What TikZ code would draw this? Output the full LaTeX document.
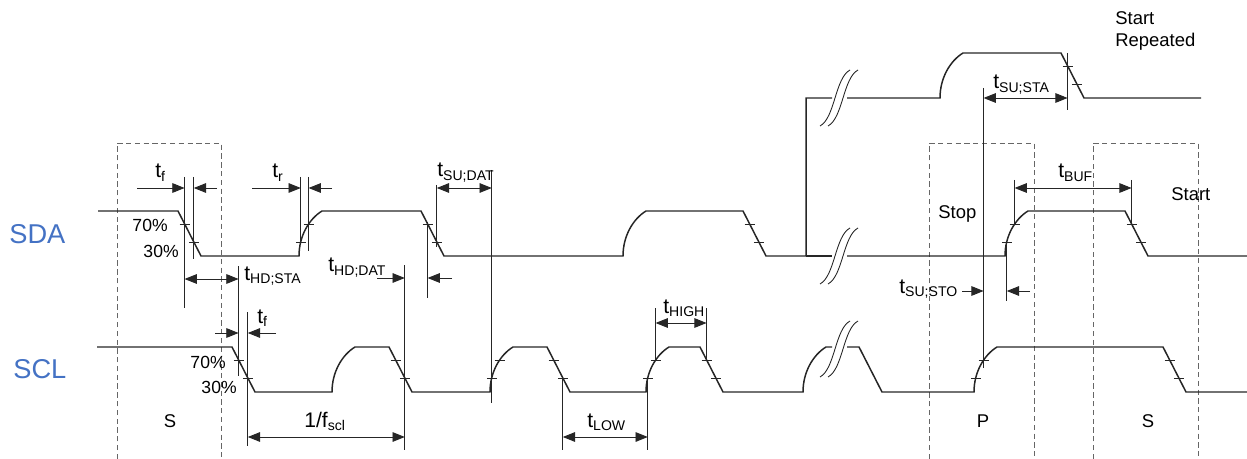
\documentclass[tikz,border=0pt]{standalone}
\usepackage{fontspec}
\setmainfont{Liberation Sans}
\usetikzlibrary{arrows.meta}
\definecolor{wireblue}{RGB}{68,114,196}
\newcommand{\tlab}[1]{t\textsubscript{#1}}
% two wavy strokes that mark a cut in a signal
\newcommand{\sigcut}[2]{%
  \foreach \dx in {-4,4}{%
    \draw[ext] ({#1+\dx-15},{#2+28}) .. controls ({#1+\dx},{#2+20}) and ({#1+\dx},{#2-20}) .. ({#1+\dx+15},{#2-28});
  }}

\begin{document}
\begin{tikzpicture}[
    x=0.02cm, y=-0.02cm,
    sig/.style={draw=black!85, line width=0.85pt},
    ext/.style={draw=black!85, line width=0.5pt},
    guide/.style={draw=black!60, line width=0.55pt, dash pattern=on 3pt off 2pt},
    tip/.style={Triangle[length=7pt, width=5.5pt]},
    dimarrow/.style={ext, {Triangle[length=7pt, width=5.5pt]}-{Triangle[length=7pt, width=5.5pt]}},
    onearrow/.style={ext, -{Triangle[length=7pt, width=5.5pt]}},
    tlabel/.style={font=\fontsize{12}{14}\selectfont, inner sep=0pt, anchor=base west},
    pct/.style={font=\fontsize{10}{12}\selectfont, inner sep=0pt, anchor=base east},
    note/.style={font=\fontsize{10.5}{12.5}\selectfont, inner sep=0pt},
    wire/.style={font=\fontsize{15.5}{18}\selectfont, text=wireblue, inner sep=0pt, anchor=base west}
]
\useasboundingbox (0,0) rectangle (1247,459);

% --- Condition boxes ---
\draw[guide] (117,459) -- (117,143) -- (221,143) -- (221,459);
\draw[guide] (929,459) -- (929,143) -- (1034,143) -- (1034,459);
\draw[guide] (1093,459) -- (1093,143) -- (1198,143) -- (1198,459);
\node[note] (s_left) at (170,421) {S};
\node[note] (p_stop) at (983,421) {P};
\node[note] (s_right) at (1148,421) {S};
\node[note, anchor=base west] (stop) at (938,218) {Stop};
\node[note, anchor=base west] (start) at (1171,201) {Start};
\node[note, anchor=west, align=left] (srep) at (1115,31) {Start\\Repeated};

% --- Wire names ---
\node[wire] (sda) at (9,243) {SDA};
\node[wire] (scl) at (13,378) {SCL};

% --- SDA ---
\draw[sig] (98,211) -- (178,211) -- (201,256) -- (299,256)
    .. controls +(0,-20) and +(-13,8) .. (322,211) -- (421,211) -- (444,256) -- (623,256)
    .. controls +(0,-20) and +(-13,8) .. (646,211) -- (743,211) -- (766,256) -- (806,256)
    -- (806,98) -- (832,98);
\draw[sig] (806,256) -- (832,256);
\draw[sig] (847,98) -- (940,98)
    .. controls +(0,-20) and +(-13,8) .. (963,53) -- (1061,53) -- (1084,98) -- (1201,98);
\draw[sig] (847,256) -- (1005,256)
    .. controls +(0,-20) and +(-13,8) .. (1028,211) -- (1125,211) -- (1148,256) -- (1247,256);

% --- SCL ---
\draw[sig] (97,347) -- (232,347) -- (255,392) -- (332,392)
    .. controls +(0,-20) and +(-13,8) .. (355,347) -- (389,347) -- (412,392) -- (490,392)
    .. controls +(0,-20) and +(-13,8) .. (513,347) -- (547,347) -- (570,392) -- (646,392)
    .. controls +(0,-20) and +(-13,8) .. (669,347) -- (700,347) -- (723,392) -- (803,392)
    .. controls +(0,-20) and +(-13,8) .. (826,347) -- (832,347);
\draw[sig] (847,347) -- (859,347) -- (882,392) -- (974,392)
    .. controls +(0,-20) and +(-13,8) .. (997,347) -- (1163,347) -- (1186,392) -- (1247,392);

% --- Cuts ---
\sigcut{839}{98}
\sigcut{839}{256}
\sigcut{839}{349}

% --- 70% / 30% marks ---
\foreach \tx/\ty in {184.6/224, 193.8/242, 427.6/224, 436.8/242, 749.6/224, 758.8/242,
    1131.6/224, 1140.8/242, 1067.6/66, 1076.8/84, 300.8/242, 308.6/224, 1006.8/242, 1014.6/224,
    238.6/360, 247.8/378, 395.6/360, 404.8/378, 553.6/360, 562.8/378, 706.6/360, 715.8/378,
    1169.6/360, 1178.8/378, 491.8/378, 499.6/360, 647.8/378, 655.6/360, 975.8/378, 983.6/360}
  \draw[ext] ({\tx-5},\ty) -- ({\tx+5},\ty);
\node[pct] (sda70) at (168,232) {70\%};
\node[pct] (sda30) at (179,257) {30\%};
\node[pct] (scl70) at (226,368) {70\%};
\node[pct] (scl30) at (237,393) {30\%};

% --- Extension lines ---
\foreach \ex/\ya/\yb in {184.6/177/308, 193.8/177/259, 300.8/177/243, 308.6/177/251,
    238.6/266/376, 247.8/312/446, 404.8/265/450, 427.6/222/298, 436.8/185/247,
    491.8/170/403, 562.8/377/450, 647.8/378/450, 655.6/308/360, 706.6/308/360,
    983.6/88/368, 1006.8/243/301, 1014.6/180/224, 1131.6/180/224, 1067.6/53/110}
  \draw[ext] (\ex,\ya) -- (\ex,\yb);

% --- Timing arrows ---
\coordinate (tf_in_l) at (137,188);   \coordinate (tf_l) at (184.6,188);
\coordinate (tf_in_r) at (217,188);   \coordinate (tf_r) at (193.8,188);
\draw[onearrow] (tf_in_l) -- (tf_l);
\draw[onearrow] (tf_in_r) -- (tf_r);
\node[tlabel] (tf_sda) at (155,178) {\tlab{f}};

\coordinate (tr_in_l) at (252,188);   \coordinate (tr_l) at (300.8,188);
\coordinate (tr_in_r) at (332,188);   \coordinate (tr_r) at (308.6,188);
\draw[onearrow] (tr_in_l) -- (tr_l);
\draw[onearrow] (tr_in_r) -- (tr_r);
\node[tlabel] (tr_sda) at (272,178) {\tlab{r}};

\coordinate (hdsta_l) at (184.6,279); \coordinate (hdsta_r) at (238.6,279);
\draw[dimarrow] (hdsta_l) -- (hdsta_r);
\node[tlabel] (thdsta) at (244,280) {\tlab{HD;STA}};

\coordinate (tfc_in_l) at (215,333);  \coordinate (tfc_l) at (238.6,333);
\coordinate (tfc_in_r) at (276,333);  \coordinate (tfc_r) at (247.8,333);
\draw[onearrow] (tfc_in_l) -- (tfc_l);
\draw[onearrow] (tfc_in_r) -- (tfc_r);
\node[tlabel] (tf_scl) at (257,323) {\tlab{f}};

\coordinate (hddat_in_l) at (377,278); \coordinate (hddat_l) at (404.8,278);
\coordinate (hddat_in_r) at (452,278); \coordinate (hddat_r) at (427.6,278);
\draw[onearrow] (hddat_in_l) -- (hddat_l);
\draw[onearrow] (hddat_in_r) -- (hddat_r);
\node[tlabel] (thddat) at (328,272) {\tlab{HD;DAT}};

\coordinate (sudat_l) at (436.8,188); \coordinate (sudat_r) at (491.8,188);
\draw[dimarrow] (sudat_l) -- (sudat_r);
\node[tlabel] (tsudat) at (437,177) {\tlab{SU;DAT}};

\coordinate (per_l) at (247.8,437);   \coordinate (per_r) at (404.8,437);
\draw[dimarrow] (per_l) -- (per_r);
\node[tlabel] (fscl) at (304,427) {1/f\textsubscript{scl}};

\coordinate (low_l) at (562.8,437);   \coordinate (low_r) at (647.8,437);
\draw[dimarrow] (low_l) -- (low_r);
\node[tlabel] (tlow) at (587,427) {\tlab{LOW}};

\coordinate (high_l) at (655.6,323);  \coordinate (high_r) at (706.6,323);
\draw[dimarrow] (high_l) -- (high_r);
\node[tlabel] (thigh) at (663,313) {\tlab{HIGH}};

\coordinate (susta_l) at (983.6,98);  \coordinate (susta_r) at (1067.6,98);
\draw[dimarrow] (susta_l) -- (susta_r);
\node[tlabel] (tsusta) at (993,89) {\tlab{SU;STA}};

\coordinate (buf_l) at (1014.6,188);  \coordinate (buf_r) at (1131.6,188);
\draw[dimarrow] (buf_l) -- (buf_r);
\node[tlabel] (tbuf) at (1058,178) {\tlab{BUF}};

\coordinate (susto_in_l) at (962,291); \coordinate (susto_l) at (983.6,291);
\coordinate (susto_in_r) at (1030,291); \coordinate (susto_r) at (1006.8,291);
\draw[onearrow] (susto_in_l) -- (susto_l);
\draw[onearrow] (susto_in_r) -- (susto_r);
\node[tlabel] (tsusto) at (899,293) {\tlab{SU;STO}};

\end{tikzpicture}
\end{document}
